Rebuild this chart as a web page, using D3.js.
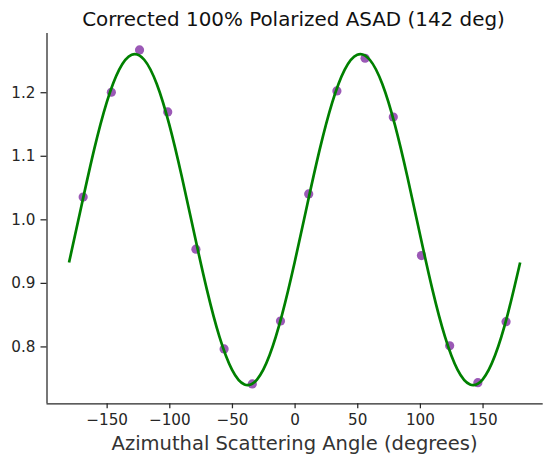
<!DOCTYPE html>
<html><head><meta charset="utf-8">
<script src="https://cdn.jsdelivr.net/npm/d3@7"></script>
<style>body{margin:0;background:#fff}text{font-family:"DejaVu Sans",sans-serif;fill:#262626}</style>
</head><body><div id="chart"></div>
<script>
const pointAngles = [-168.75,-146.25,-123.75,-101.25,-78.75,-56.25,-33.75,-11.25,11.25,33.75,56.25,78.75,101.25,123.75,146.25,168.75];
const pointValues = [1.035,1.200,1.2665,1.169,0.953,0.796,0.741,0.840,1.040,1.202,1.2535,1.161,0.943,0.801,0.743,0.839];
const fitAngles = [-180,-170,-160,-150,-140,-130,-120,-110,-100,-90,-80,-70,-60,-50,-40,-30,-20,-10,0,10,20,30,40,50,60,70,80,90,100,110,120,130,140,150,160,170,180];
const fitValues = [0.9321,1.0222,1.1096,1.1837,1.2356,1.2590,1.2511,1.2129,1.1489,1.0669,0.9768,0.8894,0.8153,0.7634,0.7400,0.7479,0.7861,0.8501,0.9321,1.0222,1.1096,1.1837,1.2356,1.2590,1.2511,1.2129,1.1489,1.0669,0.9768,0.8894,0.8153,0.7634,0.7400,0.7479,0.7861,0.8501,0.9321];
const xTicks = [-150,-100,-50,0,50,100,150];
const yTicks = [0.8,0.9,1.0,1.1,1.2];
const title = "Corrected 100% Polarized ASAD (142 deg)";
const xLabel = "Azimuthal Scattering Angle (degrees)";

const W = 552, H = 465;
const m = {left:46.5, right:W-542.7, top:33, bottom:H-403.3};
const svg = d3.select("#chart").append("svg").attr("width",W).attr("height",H);
const x = d3.scaleLinear().domain([-198,198]).range([m.left, W-m.right]);
const y = d3.scaleLinear().domain([0.7105,1.2932]).range([H-m.bottom, m.top]);

const xa = svg.append("g").attr("transform",`translate(0,${H-m.bottom})`)
  .call(d3.axisBottom(x).tickValues(xTicks).tickSize(5).tickPadding(6).tickFormat(d=>d<0?"\u2212"+Math.abs(d):d));
const ya = svg.append("g").attr("transform",`translate(${m.left},0)`)
  .call(d3.axisLeft(y).tickValues(yTicks).tickSize(6).tickPadding(5).tickFormat(d3.format(".1f")));
[xa,ya].forEach(a=>{
  a.select(".domain").attr("stroke","#262626").attr("stroke-width",1.25);
  a.selectAll(".tick line").attr("stroke","#262626").attr("stroke-width",1.25);
  a.selectAll(".tick text").attr("font-size","15.2px").attr("font-family","DejaVu Sans").attr("fill","#333");
});
xa.select(".domain").attr("d",`M${m.left},0.5H${W-m.right}`);
ya.select(".domain").attr("d",`M0.5,${m.top}V${H-m.bottom}`);

svg.append("g").selectAll("circle").data(pointAngles).join("circle")
  .attr("cx",(d)=>x(d)).attr("cy",(d,i)=>y(pointValues[i])).attr("r",4.6).attr("fill","#9b59b6");

const line = d3.line().x(d=>x(d)).y((d,i)=>y(fitValues[i])).curve(d3.curveNatural);
svg.append("path").datum(fitAngles).attr("d",line).attr("fill","none").attr("stroke","#008000").attr("stroke-width",2.7);

svg.append("text").attr("x",293.5).attr("y",26).attr("text-anchor","middle").attr("font-size","19.9px").style("fill","#111").text(title);
svg.append("text").attr("x",(m.left+W-m.right)/2).attr("y",450).attr("text-anchor","middle").attr("font-size","19.5px").style("fill","#333").text(xLabel);
</script></body></html>
